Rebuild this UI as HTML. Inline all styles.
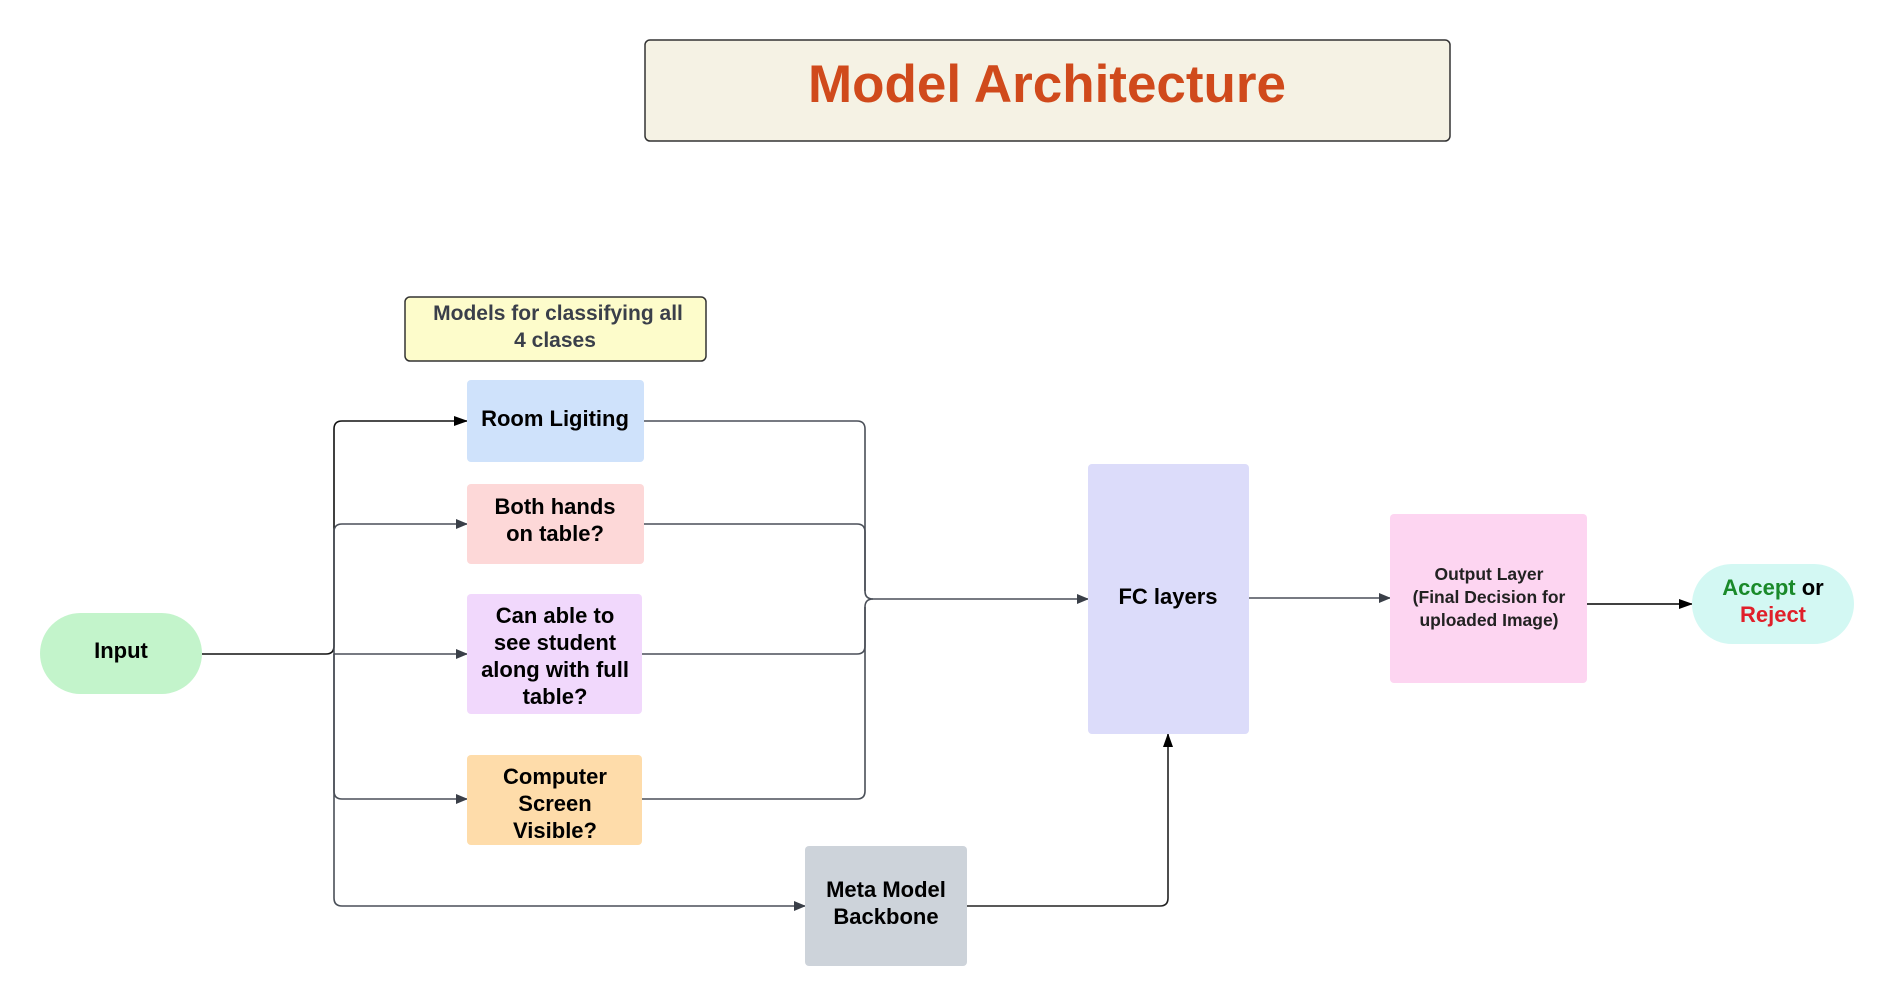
<!DOCTYPE html>
<html><head><meta charset="utf-8"><style>
html,body{margin:0;padding:0;background:#fff;}
svg{display:block;}
text{font-family:"Liberation Sans",sans-serif;font-weight:bold;}
</style></head><body>
<svg width="1880" height="1000" viewBox="0 0 1880 1000" xmlns="http://www.w3.org/2000/svg">
<defs>
<marker id="a" markerWidth="12" markerHeight="10" refX="11" refY="5" orient="auto" markerUnits="userSpaceOnUse"><path d="M0,0 L12,5 L0,10 z" fill="#3a3f48"/></marker>
<marker id="b" markerWidth="14" markerHeight="10" refX="13" refY="5" orient="auto" markerUnits="userSpaceOnUse"><path d="M0,0 L14,5 L0,10 z" fill="#000"/></marker>
</defs>
<rect x="645" y="40" width="805" height="101" rx="5" fill="#f5f2e4" stroke="#333" stroke-width="1.5"/>
<text x="1047" y="102" font-size="53" fill="#d04a1c" text-anchor="middle">Model Architecture</text>

<rect x="405" y="297" width="301" height="64" rx="5" fill="#fdfccb" stroke="#333" stroke-width="1.5"/>
<text x="558" y="320" font-size="21" fill="#3a3f4a" text-anchor="middle">Models for classifying all</text>
<text x="555" y="347" font-size="21" fill="#3a3f4a" text-anchor="middle">4 clases</text>

<g fill="none" stroke="#4a4f58" stroke-width="1.6">
<path d="M202 654 H326 Q334 654 334 646 V429 Q334 421 342 421 H467" stroke="#111" marker-end="url(#b)"/>
<path d="M334 654 V532 Q334 524 342 524 H467" marker-end="url(#a)"/>
<path d="M334 654 H467" marker-end="url(#a)"/>
<path d="M334 654 V791 Q334 799 342 799 H467" marker-end="url(#a)"/>
<path d="M334 654 V898 Q334 906 342 906 H805" marker-end="url(#a)"/>
<path d="M644 421 H857 Q865 421 865 429 V591 Q865 599 873 599 H1088" marker-end="url(#a)"/>
<path d="M644 524 H857 Q865 524 865 532 V591"/>
<path d="M642 654 H857 Q865 654 865 646 V607 Q865 599 873 599"/>
<path d="M642 799 H857 Q865 799 865 791 V607"/>
<path d="M967 906 H1160 Q1168 906 1168 898 V734" stroke="#222" marker-end="url(#b)"/>
<path d="M1249 598 H1390" marker-end="url(#a)"/>
<path d="M1587 604 H1692" stroke="#000" marker-end="url(#b)"/>
</g>

<rect x="40" y="613" width="162" height="81" rx="40.5" fill="#c3f4cb"/>
<text x="121" y="658" font-size="22" fill="#000" text-anchor="middle">Input</text>

<rect x="467" y="380" width="177" height="82" rx="4" fill="#cfe2fb"/>
<text x="555" y="426" font-size="22" text-anchor="middle">Room Ligiting</text>

<rect x="467" y="484" width="177" height="80" rx="4" fill="#fdd8d8"/>
<text x="555" y="514" font-size="22" text-anchor="middle">Both hands</text>
<text x="555" y="541" font-size="22" text-anchor="middle">on table?</text>

<rect x="467" y="594" width="175" height="120" rx="4" fill="#f1d8fc"/>
<text x="555" y="623" font-size="22" text-anchor="middle">Can able to</text>
<text x="555" y="650" font-size="22" text-anchor="middle">see student</text>
<text x="555" y="677" font-size="22" text-anchor="middle">along with full</text>
<text x="555" y="704" font-size="22" text-anchor="middle">table?</text>

<rect x="467" y="755" width="175" height="90" rx="4" fill="#fedcaa"/>
<text x="555" y="784" font-size="22" text-anchor="middle">Computer</text>
<text x="555" y="811" font-size="22" text-anchor="middle">Screen</text>
<text x="555" y="838" font-size="22" text-anchor="middle">Visible?</text>

<rect x="805" y="846" width="162" height="120" rx="4" fill="#cdd3da"/>
<text x="886" y="897" font-size="22" text-anchor="middle">Meta Model</text>
<text x="886" y="924" font-size="22" text-anchor="middle">Backbone</text>

<rect x="1088" y="464" width="161" height="270" rx="4" fill="#dcdcfa"/>
<text x="1168" y="604" font-size="22" text-anchor="middle">FC layers</text>

<rect x="1390" y="514" width="197" height="169" rx="4" fill="#fdd5f1"/>
<text x="1489" y="580" font-size="17.5" fill="#222" text-anchor="middle">Output Layer</text>
<text x="1489" y="603" font-size="17.5" fill="#222" text-anchor="middle">(Final Decision for</text>
<text x="1489" y="626" font-size="17.5" fill="#222" text-anchor="middle">uploaded Image)</text>

<rect x="1692" y="564" width="162" height="80" rx="40" fill="#d3f8f3"/>
<text x="1773" y="595" font-size="22" text-anchor="middle"><tspan fill="#1a8a2a">Accept</tspan><tspan fill="#000"> or</tspan></text>
<text x="1773" y="622" font-size="22" fill="#e0202a" text-anchor="middle">Reject</text>
</svg>
</body></html>
